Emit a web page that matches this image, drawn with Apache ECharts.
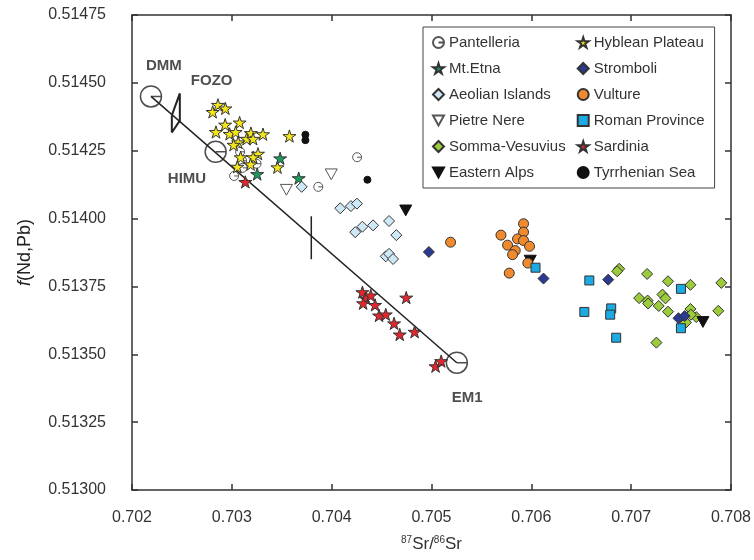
<!DOCTYPE html>
<html><head><meta charset="UTF-8">
<title>Sr - f(Nd,Pb)</title>
<script src="https://cdn.jsdelivr.net/npm/echarts@6/dist/echarts.min.js"></script>
<style>
  *{margin:0;padding:0;}
  html,body{width:100%;height:100%;background:#fff;}
  #main{width:754px;height:560px;}
</style>
</head>
<body>
<div id="main"></div>
<script>
// axis ranges / ticks
var xTicks = [0.702, 0.708, 0.001];
var yTicks = [0.513, 0.51475, 0.00025];

// data points [87Sr/86Sr, f(Nd,Pb)]
var pantelleria = [[0.703083,0.514246],[0.703103,0.514213],[0.703248,0.514202],[0.703108,0.514187],
  [0.703023,0.514157],[0.703866,0.514117],[0.704255,0.514226]];
var mtEtna = [[0.703484,0.514222],[0.703254,0.514164],[0.70367,0.514149]];
var aeolian = [[0.7037,0.514117],[0.704086,0.514038],[0.704193,0.514046],[0.704253,0.514055],
  [0.704236,0.51395],[0.704308,0.51397],[0.704415,0.513975],[0.704575,0.513991],[0.704648,0.513939],
  [0.704542,0.513861],[0.704575,0.51387],[0.704615,0.513851]];
var pietreNere = [[0.703547,0.514106],[0.703996,0.514163]];
var sommaVesuvius = [[0.70688,0.513815],[0.70686,0.513806],[0.70716,0.513796],[0.707369,0.513769],
  [0.707594,0.513756],[0.707903,0.513763],[0.70708,0.513707],[0.707165,0.513698],[0.70717,0.513687],
  [0.707314,0.51372],[0.707344,0.513706],[0.707276,0.513678],[0.707369,0.513657],[0.707594,0.513667],
  [0.707652,0.513637],[0.707549,0.513617],[0.707253,0.513543],[0.707873,0.51366],[0.707599,0.513646]];
var easternAlps = [[0.704742,0.51403],[0.705989,0.513845],[0.707719,0.513619]];
var hyblean = [[0.702808,0.514393],[0.702861,0.514419],[0.702935,0.514406],[0.702933,0.514346],
  [0.703078,0.514354],[0.702841,0.514319],[0.702978,0.514312],[0.703038,0.514319],[0.703191,0.514315],
  [0.703312,0.514311],[0.703148,0.514294],[0.703213,0.514294],[0.703063,0.514281],[0.703018,0.514272],
  [0.703577,0.514304],[0.703262,0.514239],[0.703213,0.514226],[0.703088,0.514226],[0.703188,0.5142],
  [0.703055,0.514191],[0.703457,0.514189]];
var stromboli = [[0.704974,0.513877],[0.706122,0.513779],[0.70677,0.513775],[0.707474,0.513633],[0.707536,0.513641]];
var vulture = [[0.705191,0.513913],[0.705922,0.513981],[0.705922,0.51395],[0.705696,0.513939],
  [0.705862,0.513925],[0.705922,0.513919],[0.705762,0.513902],[0.705982,0.513898],[0.705839,0.513882],
  [0.705812,0.513867],[0.705965,0.513836],[0.705779,0.513799]];
var romanProvince = [[0.706042,0.513819],[0.706581,0.513772],[0.706531,0.513656],[0.7068,0.513669],
  [0.70679,0.513646],[0.70685,0.513561],[0.707499,0.513741],[0.707499,0.513596]];
var sardinia = [[0.703135,0.514135],[0.704308,0.513729],[0.704342,0.513706],[0.704315,0.513688],
  [0.704392,0.513717],[0.704435,0.513682],[0.704475,0.513643],[0.704542,0.513647],[0.704625,0.513614],
  [0.704682,0.513573],[0.704747,0.513709],[0.704831,0.513583],[0.705041,0.513456],[0.705097,0.513475]];
var tyrrhenian = [[0.703737,0.514309],[0.703737,0.514289],[0.704358,0.514143]];

// end-members
var endNames = ['DMM', 'HIMU', 'EM1'];
var endPoints = [[0.70219,0.51445],[0.702838,0.514246],[0.705254,0.513469]];
var fozoShape = [[0.702399,0.51438],[0.702479,0.514461],[0.702479,0.514361],[0.702399,0.514317],[0.702399,0.51438]];
var mixTick = [[0.703796,0.514009],[0.703796,0.51385]];
var labelNames = ['DMM', 'FOZO', 'HIMU', 'EM1'];
var labelPoints = [[0.70214,0.514561],[0.702589,0.514506],[0.702359,0.514146],[0.705204,0.513339]];

var STAR = 'path://M50,0 L61,35 L98,35 L68,57 L79,91 L50,70 L21,91 L32,57 L2,35 L39,35 Z';
var DOWN = 'path://M0,0 L20,0 L10,18 Z';
var RING = 'path://M20,10 A10,10 0 1,1 0,10 A10,10 0 1,1 20,10 Z M10,10 L20,10';
var FONT = 'Liberation Sans';

function pts(name, data, symbol, size, color, border) {
  return {
    name: name, type: 'scatter', data: data, symbol: symbol, symbolSize: size,
    symbolKeepAspect: true, z: 5,
    itemStyle: {color: color, borderColor: border || '#333', borderWidth: 1, opacity: 1}
  };
}

var legendNames = ['Pantelleria','Mt.Etna','Aeolian Islands','Pietre Nere','Somma-Vesuvius','Eastern Alps',
  'Hyblean Plateau','Stromboli','Vulture','Roman Province','Sardinia','Tyrrhenian Sea'];

var axisLine = {lineStyle: {color: '#333', width: 1.5}};
var tick = {inside: true, length: 6, lineStyle: {color: '#333', width: 1.5}};

var chart = echarts.init(document.getElementById('main'));
chart.setOption({
  animation: false,
  textStyle: {fontFamily: FONT},
  grid: {left: 132, right: 21, top: 15, bottom: 70},
  legend: {
    data: legendNames, orient: 'vertical', left: 423, top: 27, height: 150,
    itemWidth: 11, itemHeight: 11, itemGap: 11,
    padding: [8, 10, 8, 9], borderColor: '#444', borderWidth: 1,
    textStyle: {fontFamily: FONT, fontSize: 15, color: '#333'}
  },
  xAxis: [{
    type: 'value', min: xTicks[0], max: xTicks[1], interval: xTicks[2],
    axisLine: axisLine, axisTick: tick, splitLine: {show: false},
    axisLabel: {margin: 20, fontSize: 16, color: '#333', formatter: function (v) { return v.toFixed(3); }},
    name: '{s|87}Sr/{s|86}Sr', nameLocation: 'middle', nameGap: 45,
    nameTextStyle: {fontSize: 17, color: '#333', rich: {s: {fontSize: 10, verticalAlign: 'top', color: '#333', padding: [0, 0, 8, 0]}}}
  }, {
    type: 'value', position: 'top', min: xTicks[0], max: xTicks[1], interval: xTicks[2],
    axisLine: axisLine, axisTick: tick, axisLabel: {show: false}, splitLine: {show: false}
  }],
  yAxis: [{
    type: 'value', min: yTicks[0], max: yTicks[1], interval: yTicks[2],
    axisLine: axisLine, axisTick: tick, splitLine: {show: false},
    axisLabel: {margin: 26, fontSize: 16, color: '#333', formatter: function (v) { return v.toFixed(5); }},
    name: '{i|f}(Nd,Pb)', nameLocation: 'middle', nameGap: 98, nameRotate: 90,
    nameTextStyle: {fontSize: 18, color: '#222', rich: {i: {fontSize: 18, fontStyle: 'italic', color: '#222'}}}
  }, {
    type: 'value', position: 'right', min: yTicks[0], max: yTicks[1], interval: yTicks[2],
    axisLine: axisLine, axisTick: tick, axisLabel: {show: false}, splitLine: {show: false}
  }],
  series: [
    {type: 'line', data: [endPoints[0], endPoints[2]], symbol: 'none', z: 2, lineStyle: {color: '#222', width: 1.5}},
    {type: 'line', data: fozoShape, symbol: 'none', z: 2, lineStyle: {color: '#222', width: 2}},
    {type: 'line', data: mixTick, symbol: 'none', z: 2, lineStyle: {color: '#222', width: 1.5}},
    {type: 'scatter', data: endPoints, symbol: RING, symbolSize: 21, z: 3,
      itemStyle: {color: 'rgba(0,0,0,0)', borderColor: '#222', borderWidth: 1.5}},
    {type: 'scatter', symbolSize: 0, z: 6,
      data: labelNames.map(function (n, i) { return {name: n, value: labelPoints[i]}; }),
      label: {show: true, position: 'right', distance: 0, formatter: '{b}', fontSize: 15, fontWeight: 'bold', color: '#222'}},
    pts('Pantelleria', pantelleria, RING, 9, '#fff', '#555'),
    pts('Pietre Nere', pietreNere, DOWN, 12, '#fff', '#555'),
    pts('Tyrrhenian Sea', tyrrhenian, 'circle', 7, '#111', '#111'),
    pts('Hyblean Plateau', hyblean, STAR, 13, '#f3e61a'),
    pts('Mt.Etna', mtEtna, STAR, 13, '#1c9a5c'),
    pts('Aeolian Islands', aeolian, 'diamond', 11, '#cfe8f6'),
    pts('Somma-Vesuvius', sommaVesuvius, 'diamond', 11, '#9ccb3b'),
    pts('Eastern Alps', easternAlps, DOWN, 12, '#111', '#111'),
    pts('Stromboli', stromboli, 'diamond', 11, '#2b3990'),
    pts('Vulture', vulture, 'circle', 10, '#f08a2e'),
    pts('Roman Province', romanProvince, 'rect', 9, '#1caae2'),
    pts('Sardinia', sardinia, STAR, 13, '#e3262c')
  ]
});
</script>
</body></html>
